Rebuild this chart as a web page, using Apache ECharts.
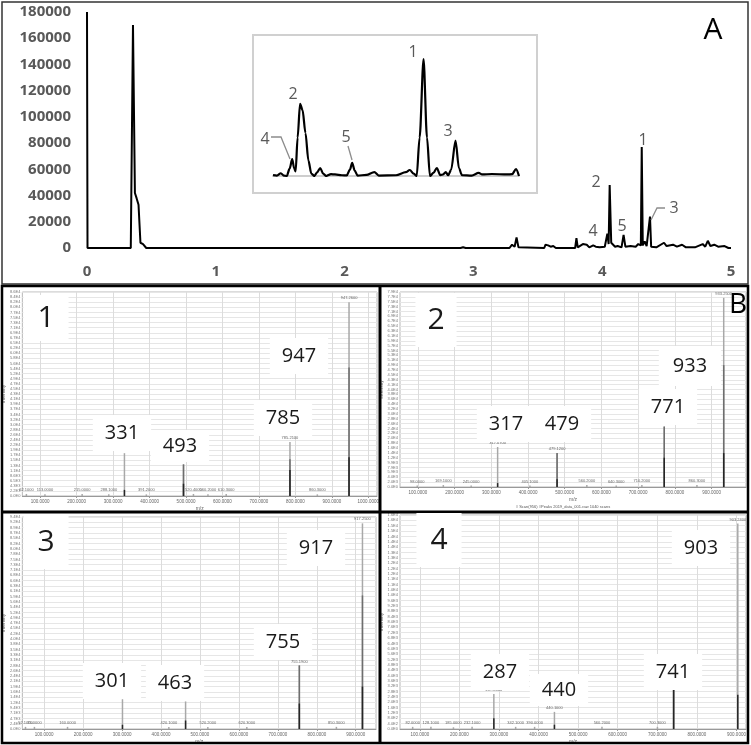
<!DOCTYPE html>
<html>
<head>
<meta charset="utf-8">
<script src="https://cdn.jsdelivr.net/npm/echarts@6/dist/echarts.min.js"></script>
<style>
html, body { margin: 0; padding: 0; background: #fff; }
#chart { width: 751px; height: 745px; }
</style>
</head>
<body>
<div id="chart"></div>
<script>
// chromatogram (panel A), retention time in minutes
var rtMain = [0, 0.004, 0.34, 0.35, 0.357, 0.372, 0.385, 0.40, 0.415, 0.425, 0.435, 0.445, 0.46, 2.9, 2.92, 2.94, 3.12, 3.13, 3.14,
  3.28, 3.30, 3.32, 3.335, 3.35, 3.36, 3.55, 3.56, 3.58, 3.60, 3.62, 3.64, 3.79, 3.80, 3.81, 3.85, 3.88, 3.90, 3.93, 3.95, 3.98,
  4.02, 4.04, 4.05, 4.058, 4.07, 4.08, 4.10, 4.12, 4.15, 4.166, 4.18, 4.22, 4.26, 4.28, 4.30, 4.307, 4.315, 4.33, 4.345, 4.36,
  4.371, 4.38, 4.42, 4.48, 4.50, 4.55, 4.58, 4.62, 4.65, 4.72, 4.78, 4.80, 4.82, 4.84, 4.87, 4.90, 4.95, 4.98, 5];
var sigMain = [180000, 0, 0, 0, 170000, 42000, 38000, 33000, 4000, 2500, 3000, 1500, 0, 0, 600, 0, 0, 1200, 0,
  0, 2500, 1000, 8000, 500, 0, 0, 2500, 2000, 1000, 1500, 0, 0, 7500, 500, 3000, 2500, 500, 2000, 1000, 500,
  1000, 11000, 3000, 48000, 4000, 5000, 1000, 1500, 500, 10000, 1000, 1500, 1000, 3000, 2000, 77000, 2000, 5000, 1500, 2000,
  24000, 1000, 500, 4000, 1500, 2500, 1000, 2500, 500, 500, 3000, 1000, 5500, 1500, 2500, 1000, 1500, 0, 0];
var yTicksMain = [0, 20000, 40000, 60000, 80000, 100000, 120000, 140000, 160000, 180000];

// inset: zoom of 4.0 - 4.5 min
var rtInset = [4.000, 4.008, 4.016, 4.022, 4.028, 4.034, 4.039, 4.043, 4.046, 4.050, 4.055, 4.060, 4.066, 4.072, 4.078, 4.084,
  4.090, 4.096, 4.102, 4.108, 4.118, 4.126, 4.140, 4.150, 4.156, 4.161, 4.166, 4.172, 4.190, 4.206, 4.215, 4.250, 4.270, 4.278,
  4.286, 4.292, 4.298, 4.306, 4.313, 4.319, 4.326, 4.333, 4.340, 4.346, 4.351, 4.356, 4.362, 4.371, 4.378, 4.384, 4.404, 4.418,
  4.425, 4.445, 4.476, 4.486, 4.494, 4.500];
var sigInset = [600, 300, 1800, 300, 0, 5000, 11000, 5000, 3000, 25000, 47000, 43000, 28000, 10000, 1500, 0,
  2500, 5200, 1500, 0, 1200, 1000, 500, 400, 4000, 8500, 3500, 300, 700, 2500, 300, 500, 2500, 3900,
  1500, 0, 25000, 76000, 25000, 0, 2000, 5200, 600, 1000, 2600, 500, 4000, 23000, 5000, 600, 300, 2000,
  1000, 1300, 1000, 1200, 4500, 0];

// mass spectra (panel B), relative intensity (%)
var mz1 = [62.1, 113.0, 215.0, 288.1, 331.08, 391.2, 493.13, 520.4, 560.2, 610.3, 785.21, 860.3, 947.26];
var light1 = [1, 0.8, 1, 0.8, 21, 0.8, 15.5, 1, 0.8, 1, 26.5, 0.8, 95];
var mid1 = [0, 0, 0, 0, 0, 0, 15.5, 0, 0, 0, 18, 0, 63];
var dark1 = [0, 0, 0, 0, 3, 0, 6, 0, 0, 0, 12.7, 0, 19];
var xTicks1 = [100, 200, 300, 400, 500, 600, 700, 800, 900, 1000];

var mz2 = [98.0, 169.1, 245.0, 317.07, 405.1, 479.12, 560.2, 640.3, 710.2, 771.20, 860.3, 933.25];
var light2 = [0.8, 1, 0.8, 20.5, 0.8, 17.4, 1, 0.8, 1, 31, 1, 97];
var mid2 = [0, 0, 0, 0, 0, 17.4, 0, 0, 0, 31, 0, 62.5];
var dark2 = [0, 0, 0, 2, 0, 4, 0, 0, 0, 15, 0, 17.4];
var xTicks2 = [100, 200, 300, 400, 500, 600, 700, 800, 900];

var mz3 = [52.1, 75.0, 160.0, 301.05, 420.1, 463.10, 520.2, 620.3, 755.19, 850.3, 917.25];
var light3 = [1, 1, 1, 14, 1, 13, 1, 1, 30, 1, 97];
var mid3 = [0, 0, 0, 0, 0, 0, 0, 0, 30, 0, 63];
var dark3 = [0, 0, 0, 2, 0, 4, 0, 0, 12, 0, 20];
var xTicks3 = [100, 200, 300, 400, 500, 600, 700, 800, 900];

var mz4 = [82.0, 128.1, 185.0, 232.1, 287.06, 342.1, 390.0, 440.10, 560.2, 700.3, 741.18, 903.24];
var light4 = [1, 1, 0.8, 1, 16.4, 1, 1, 8, 1, 1, 22.5, 96];
var mid4 = [0, 0, 0, 0, 0, 0, 0, 0, 0, 0, 22.5, 0];
var dark4 = [0, 0, 0, 0, 5, 0, 0, 2, 0, 0, 22.5, 16];
var xTicks4 = [100, 200, 300, 400, 500, 600, 700, 800, 900];

var myChart = echarts.init(document.getElementById('chart'));

function pairs(xs, ys) {
  return xs.map(function (x, i) { return [x, ys[i]]; });
}

var grids = [];
var xAxes = [];
var yAxes = [];
var series = [];

// panel A main chart
grids.push({ left: 87, top: 12, width: 644, height: 236 });
xAxes.push({
  gridIndex: 0, type: 'value', min: 0, max: 5, interval: 1,
  axisLine: { show: false }, axisTick: { show: false }, splitLine: { show: false },
  axisLabel: { margin: 16, color: '#595959', fontSize: 15, fontWeight: 'bold', fontFamily: 'Open Sans' }
});
yAxes.push({
  gridIndex: 0, type: 'value', min: 0, max: 180000, interval: 20000,
  axisLine: { show: false }, axisTick: { show: false }, splitLine: { show: false },
  axisLabel: { margin: 16, color: '#595959', fontSize: 15, fontWeight: 'bold', fontFamily: 'Open Sans',
    customValues: yTicksMain, formatter: function (v) { return String(v); } }
});
series.push({
  type: 'line', xAxisIndex: 0, yAxisIndex: 0, data: pairs(rtMain, sigMain),
  showSymbol: false, lineStyle: { color: '#000', width: 2 }, z: 3
});

// inset
grids.push({ left: 273, top: 50, width: 246, height: 126 });
xAxes.push({
  gridIndex: 1, type: 'value', min: 4.0, max: 4.5,
  axisLine: { show: true, lineStyle: { color: '#bfbfbf', width: 1.5 } },
  axisTick: { show: false }, axisLabel: { show: false }, splitLine: { show: false }
});
yAxes.push({ gridIndex: 1, type: 'value', min: 0, max: 82000, show: false, splitLine: { show: false } });
series.push({
  type: 'line', xAxisIndex: 1, yAxisIndex: 1, data: pairs(rtInset, sigInset),
  showSymbol: false, smooth: 0.3, smoothMonotone: 'x',
  lineStyle: { color: '#000', width: 2.2 }, z: 5
});

// spectra
var spectra = [
  { grid: { left: 20, top: 292, width: 357, height: 204 }, min: 51, max: 1024, ticks: xTicks1, mz: mz1, light: light1, mid: mid1, dark: dark1, maxI: 8.6e4 },
  { grid: { left: 400, top: 292, width: 346, height: 195 }, min: 51, max: 994, ticks: xTicks2, mz: mz2, light: light2, mid: mid2, dark: dark2, maxI: 7.9e4 },
  { grid: { left: 20, top: 517, width: 356, height: 217 }, min: 44, max: 952, ticks: xTicks3, mz: mz3, light: light3, mid: mid3, dark: dark3, maxI: 9.4e4 },
  { grid: { left: 400, top: 515, width: 346, height: 218 }, min: 50, max: 924, ticks: xTicks4, mz: mz4, light: light4, mid: mid4, dark: dark4, maxI: 1.6e4 }
];

spectra.forEach(function (s, k) {
  var gi = k + 2;
  var g = s.grid;
  g.show = true;
  g.borderColor = '#b8b8b8';
  g.borderWidth = 1;
  grids.push(g);
  xAxes.push({
    gridIndex: gi, type: 'value', min: s.min, max: s.max,
    name: 'm/z', nameLocation: 'middle', nameGap: 10,
    nameTextStyle: { fontSize: 5, color: '#666' },
    axisLine: { lineStyle: { color: '#999', width: 1 } },
    axisTick: { show: true, customValues: s.ticks, length: 2, lineStyle: { color: '#999' } },
    axisLabel: { customValues: s.ticks, fontSize: 4.5, color: '#666', margin: 3,
      formatter: function (v) { return v.toFixed(4); } },
    splitLine: { show: true, lineStyle: { color: '#dcdcdc', width: 1 } }
  });
  yAxes.push({
    gridIndex: gi, type: 'value', min: 0, max: 100, interval: 2.5,
    name: 'Intensity', nameLocation: 'middle', nameGap: 12,
    nameTextStyle: { fontSize: 5, color: '#666' },
    axisLine: { show: false }, axisTick: { show: false },
    axisLabel: { fontSize: 4, color: '#777', margin: 2,
      formatter: function (v) { return (v / 100 * s.maxI).toExponential(1).replace('e+', 'E'); } },
    splitLine: { show: true, lineStyle: { color: '#e6e6e6', width: 1 } }
  });
  series.push({
    type: 'bar', xAxisIndex: gi, yAxisIndex: gi, data: pairs(s.mz, s.light),
    barWidth: 1.5, barGap: '-100%', itemStyle: { color: '#a8a8a8' },
    label: { show: true, position: 'top', distance: 2, fontSize: 4, color: '#666',
      formatter: function (p) { return p.value[0].toFixed(4); } }
  });
  series.push({
    type: 'bar', xAxisIndex: gi, yAxisIndex: gi, data: pairs(s.mz, s.mid),
    barWidth: 1.5, barGap: '-100%', itemStyle: { color: '#6e6e6e' }
  });
  series.push({
    type: 'bar', xAxisIndex: gi, yAxisIndex: gi, data: pairs(s.mz, s.dark),
    barWidth: 1.5, barGap: '-100%', itemStyle: { color: '#262626' }
  });
});

// annotation helpers
function boxText(text, x, y, size, pad) {
  return {
    type: 'text', x: x, y: y, z: 100,
    style: { text: text, font: size + 'px "Open Sans", sans-serif', fill: '#1a1a1a',
      align: 'center', verticalAlign: 'middle', backgroundColor: '#fff', padding: pad }
  };
}
function grayText(text, x, y) {
  return {
    type: 'text', x: x, y: y, z: 100,
    style: { text: text, font: '16px "Open Sans", sans-serif', fill: '#595959', align: 'center', verticalAlign: 'middle' }
  };
}
function leader(points) {
  return { type: 'polyline', z: 100, shape: { points: points }, style: { stroke: '#8c8c8c', lineWidth: 1.3, fill: null } };
}

var graphics = [
  // panel A frame and inset frame
  { type: 'rect', z: -1, shape: { x: 2, y: 2, width: 746, height: 282 }, style: { fill: null, stroke: '#333', lineWidth: 1.5 } },
  { type: 'rect', z: 0, shape: { x: 253, y: 35, width: 284, height: 158 }, style: { fill: '#fff', stroke: '#d0d0d0', lineWidth: 2 } },
  { type: 'text', x: 713, y: 30, z: 100, style: { text: 'A', font: '30px "Open Sans", sans-serif', fill: '#000', align: 'center', verticalAlign: 'middle' } },
  // inset peak numbers
  grayText('1', 413, 52), grayText('2', 293, 94), grayText('3', 448, 131), grayText('4', 265, 139), grayText('5', 346, 137),
  leader([[271, 137], [281, 137], [290, 159]]),
  leader([[348, 146], [352, 160]]),
  // main peak numbers
  grayText('1', 643, 140), grayText('2', 596, 182), grayText('3', 674, 208), grayText('4', 593, 231), grayText('5', 622, 226),
  leader([[665, 208], [657, 208], [651, 220]]),
  // panel B frames
  { type: 'rect', z: 100, shape: { x: 2, y: 286, width: 746, height: 457 }, style: { fill: null, stroke: '#000', lineWidth: 2.5 } },
  { type: 'line', z: 100, shape: { x1: 380, y1: 286, x2: 380, y2: 743 }, style: { stroke: '#000', lineWidth: 3 } },
  { type: 'line', z: 100, shape: { x1: 2, y1: 512, x2: 748, y2: 512 }, style: { stroke: '#000', lineWidth: 3 } },
  { type: 'text', x: 738, y: 305, z: 101, style: { text: 'B', font: '28px "Open Sans", sans-serif', fill: '#000', align: 'center', verticalAlign: 'middle' } },
  { type: 'text', x: 563, y: 507, z: 100, style: { text: '# Scan(956) #Peaks 2019_data_001.raw 1040 scans', font: '4px sans-serif', fill: '#555', align: 'center', verticalAlign: 'middle' } },
  // panel 1
  boxText('1', 46, 318, 30, [8, 14]),
  boxText('947', 299, 356, 20, [8, 12]), boxText('785', 283, 418, 20, [8, 12]),
  boxText('331', 122, 433, 20, [8, 12]), boxText('493', 180, 446, 20, [6, 12]),
  // panel 2
  boxText('2', 436, 320, 30, [12, 12]),
  boxText('933', 690, 366, 20, [10, 14]), boxText('771', 668, 407, 20, [8, 12]),
  boxText('317', 506, 424, 20, [8, 12]), boxText('479', 562, 424, 20, [8, 12]),
  // panel 3
  boxText('3', 46, 542, 30, [12, 14]),
  boxText('917', 316, 548, 20, [8, 12]), boxText('755', 283, 642, 20, [8, 12]),
  boxText('301', 112, 681, 20, [8, 12]), boxText('463', 175, 683, 20, [8, 12]),
  // panel 4
  boxText('4', 439, 540, 30, [12, 14]),
  boxText('903', 701, 548, 20, [8, 12]), boxText('741', 673, 672, 20, [8, 12]),
  boxText('287', 500, 672, 20, [8, 12]), boxText('440', 559, 690, 20, [6, 12])
];

var option = {
  animation: false,
  backgroundColor: '#fff',
  grid: grids,
  xAxis: xAxes,
  yAxis: yAxes,
  series: series,
  graphic: graphics
};

myChart.setOption(option);
</script>
</body>
</html>
